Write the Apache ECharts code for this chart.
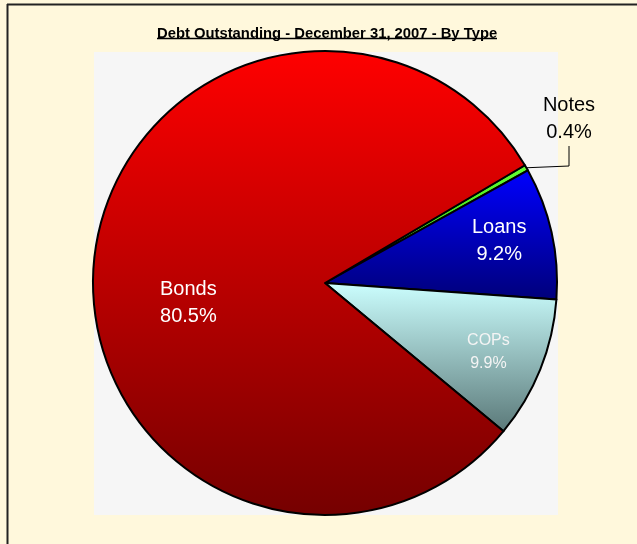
<!DOCTYPE html>
<html>
<head>
<meta charset="utf-8">
<script src="https://cdn.jsdelivr.net/npm/echarts@6/dist/echarts.min.js"></script>
<style>
  html, body { margin: 0; padding: 0; background: #fff8dc; }
  #chart { width: 637px; height: 544px; }
</style>
</head>
<body>
<div id="chart"></div>
<script>
// debt types, clockwise from the top-right
const categories = ['Notes', 'Loans', 'COPs', 'Bonds']
const shares = [0.4, 9.2, 9.9, 80.5]

// vertical gradient for each slice: [top, bottom]
const sliceColors = [
    ['#66ff33', '#22cc00'],
    ['#0000ff', '#00007a'],
    ['#ccffff', '#5a7878'],
    ['#ff0000', '#750000']
]

// label nudges from the default inside spot
const labelShift = {
    Loans: { dx: 58, dy: -16 },
    COPs: { dx: 53, dy: 25 },
    Bonds: { dx: -18, dy: 30 }
}

const chart = echarts.init(document.getElementById('chart'))

const grad = (c) => new echarts.graphic.LinearGradient(0, 0, 0, 1, [
    { offset: 0, color: c[0] },
    { offset: 1, color: c[1] }
])

chart.setOption({
    backgroundColor: '#fff8dc',
    animation: false,
    title: {
        text: 'Debt Outstanding - December 31, 2007 - By Type',
        left: 152,
        top: 21,
        textStyle: {
            fontFamily: 'Liberation Sans, Arial, sans-serif',
            fontSize: 14.8,
            fontWeight: 'bold',
            color: '#000'
        }
    },
    graphic: [
        // plot area
        { type: 'rect', z: -10, shape: { x: 94, y: 52, width: 464, height: 463 }, style: { fill: '#f6f6f6' } },
        // frame (top + left)
        { type: 'line', z: 10, shape: { x1: 7, y1: 4.5, x2: 637, y2: 4.5 }, style: { stroke: '#222', lineWidth: 2 } },
        { type: 'line', z: 10, shape: { x1: 7.5, y1: 4, x2: 7.5, y2: 544 }, style: { stroke: '#222', lineWidth: 2 } },
        // title underline
        { type: 'line', z: 10, shape: { x1: 157, y1: 38.5, x2: 497, y2: 38.5 }, style: { stroke: '#000', lineWidth: 1.5 } }
    ],
    series: [
        {
            type: 'pie',
            center: [325, 283],
            radius: 232,
            startAngle: 30.5,
            clockwise: true,
            avoidLabelOverlap: false,
            itemStyle: { borderColor: '#000', borderWidth: 2 },
            emphasis: { disabled: true },
            label: {
                show: true,
                position: 'inside',
                fontFamily: 'Liberation Sans, Arial, sans-serif',
                fontSize: 20,
                lineHeight: 27,
                color: '#fff',
                formatter: (p) => p.name + '\n' + p.value.toFixed(1) + '%'
            },
            labelLayout: (p) => {
                const name = categories[p.dataIndex]
                if (name === 'Notes') {
                    return { x: 569, y: 119, align: 'center', verticalAlign: 'middle' }
                }
                return labelShift[name]
            },
            data: categories.map((name, i) => {
                const item = {
                    name: name,
                    value: shares[i],
                    itemStyle: { color: grad(sliceColors[i]) }
                }
                if (name === 'Notes') {
                    item.label = { position: 'outside', color: '#000', fontSize: 20, lineHeight: 27 }
                    item.labelLine = { show: true, length: 20, length2: 20, lineStyle: { color: '#000', width: 1 } }
                }
                if (name === 'COPs') {
                    item.label = { fontSize: 16, lineHeight: 23, color: '#f4f4f4' }
                }
                return item
            })
        }
    ]
})
</script>
</body>
</html>
